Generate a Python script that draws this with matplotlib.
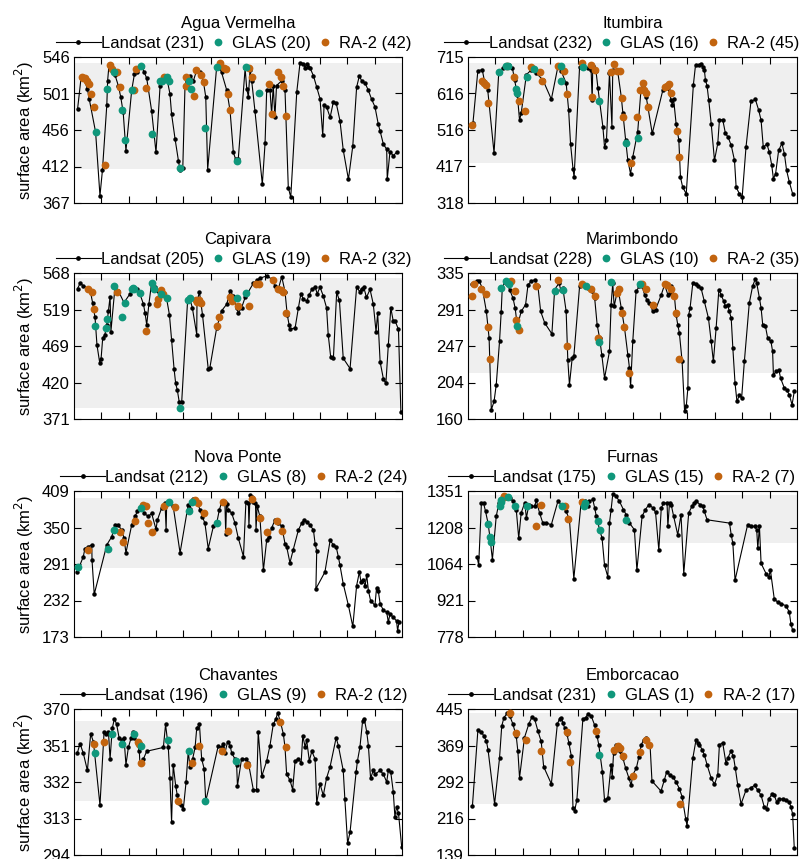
import matplotlib.pyplot as plt
import numpy as np
from matplotlib.legend_handler import HandlerLine2D
from matplotlib.lines import Line2D

plt.rcParams['font.family'] = ['Liberation Sans', 'DejaVu Sans']
plt.rcParams['font.size'] = 12

TEAL = '#10977b'
ORANGE = '#c2640f'
BAND = '#efefef'

# time axis: years since start of record (12 years shown)

# ---- Agua Vermelha ----
agua_landsat = [(0.13, 482), (0.26, 521), (0.34, 521), (0.49, 507), (0.56, 494), (0.79, 454), (0.95, 376),
                (1.04, 407), (1.20, 487), (1.23, 517), (1.28, 536), (1.38, 530), (1.50, 524), (1.62, 511),
                (1.71, 497), (1.80, 478), (1.90, 431), (2.11, 505), (2.21, 525), (2.29, 528), (2.35, 532),
                (2.48, 534), (2.56, 528), (2.66, 520), (2.84, 480), (3.00, 429), (3.15, 511), (3.23, 519),
                (3.39, 521), (3.51, 501), (3.57, 476), (3.70, 445), (3.82, 419), (3.88, 407), (3.98, 410),
                (4.06, 509), (4.12, 517), (4.24, 523), (4.37, 517), (4.49, 530), (4.61, 527), (4.73, 517),
                (4.82, 497), (4.89, 408), (5.22, 534), (5.34, 533), (5.40, 527), (5.59, 505), (5.71, 480),
                (5.83, 429), (5.91, 421), (6.01, 421), (6.26, 532), (6.32, 507), (6.38, 497), (6.44, 530),
                (6.50, 517), (6.62, 480), (6.89, 390), (6.99, 440), (7.05, 506), (7.17, 506), (7.23, 476),
                (7.29, 511), (7.35, 472), (7.41, 511), (7.60, 517), (7.72, 505), (7.84, 386), (7.93, 374),
                (8.15, 503), (8.27, 539), (8.39, 538), (8.45, 533), (8.51, 538), (8.57, 534), (8.63, 533),
                (8.76, 523), (8.88, 509), (9.00, 495), (9.10, 450), (9.15, 487), (9.24, 485), (9.37, 472),
                (9.49, 491), (9.59, 490), (9.73, 468), (9.85, 432), (10.04, 396), (10.20, 437), (10.34, 509),
                (10.44, 523), (10.52, 517), (10.65, 514), (10.77, 505), (10.89, 494), (11.01, 485),
                (11.13, 464), (11.20, 455), (11.32, 439), (11.44, 433), (11.46, 396), (11.56, 430),
                (11.68, 425), (11.80, 429)]
agua_glas = [(0.79, 454), (1.22, 507), (1.48, 528), (1.77, 481), (1.87, 444), (2.13, 506), (2.45, 535),
             (2.85, 452), (3.16, 517), (3.22, 516), (3.39, 521), (3.48, 516), (3.89, 410), (4.21, 517),
             (4.28, 507), (4.80, 459), (5.23, 534), (5.95, 419), (6.28, 534), (6.76, 502)]
agua_ra2 = [(0.30, 521), (0.34, 520), (0.41, 520), (0.49, 517), (0.55, 513), (0.62, 501), (0.72, 485),
            (1.13, 414), (1.32, 536), (1.40, 531), (1.59, 527), (1.68, 509), (2.21, 505), (2.27, 531),
            (2.62, 508), (3.30, 522), (4.09, 521), (4.10, 510), (4.40, 498), (4.45, 530), (4.65, 524),
            (4.76, 515), (5.34, 539), (5.49, 532), (5.55, 531), (5.62, 501), (5.71, 481), (6.41, 532),
            (6.50, 522), (7.12, 513), (7.23, 476), (7.48, 528), (7.57, 522), (7.66, 511), (7.74, 474)]

# ---- Itumbira ----
itum_landsat = [(0.18, 535), (0.36, 678), (0.52, 680), (0.60, 650), (0.72, 625), (0.95, 454), (1.12, 671),
                (1.28, 685), (1.49, 694), (1.62, 685), (1.70, 653), (1.80, 612), (1.88, 543), (1.94, 562),
                (2.13, 667), (2.31, 680), (2.49, 671), (2.73, 653), (3.04, 600), (3.28, 689), (3.40, 676),
                (3.58, 644), (3.67, 571), (3.74, 479), (3.83, 411), (3.87, 388), (4.07, 689), (4.19, 694),
                (4.37, 685), (4.49, 680), (4.53, 598), (4.55, 690), (4.67, 676), (4.74, 630), (4.92, 525),
                (4.98, 470), (5.05, 488), (5.16, 671), (5.25, 525), (5.28, 680), (5.46, 676), (5.59, 607),
                (5.65, 562), (5.75, 489), (5.83, 434), (5.93, 397), (6.01, 443), (6.19, 512), (6.31, 626),
                (6.38, 635), (6.50, 607), (6.72, 507), (7.11, 626), (7.29, 630), (7.41, 598), (7.45, 585),
                (7.50, 600), (7.59, 534), (7.69, 489), (7.75, 388), (7.83, 361), (7.96, 343), (8.22, 639),
                (8.30, 694), (8.44, 694), (8.50, 697), (8.56, 689), (8.62, 680), (8.66, 653), (8.72, 636),
                (8.78, 598), (8.87, 534), (8.99, 434), (9.11, 480), (9.17, 543), (9.29, 545), (9.39, 507),
                (9.48, 498), (9.60, 475), (9.72, 434), (9.78, 361), (9.90, 343), (10.00, 334), (10.14, 470),
                (10.32, 594), (10.48, 600), (10.60, 571), (10.69, 543), (10.77, 470), (10.90, 478),
                (10.99, 457), (11.08, 420), (11.14, 384), (11.22, 398), (11.33, 461), (11.45, 480),
                (11.54, 452), (11.62, 407), (11.72, 375), (11.84, 343)]
itum_glas = [(1.14, 673), (1.40, 690), (1.46, 691), (1.76, 627), (1.80, 618), (2.14, 660), (2.40, 682),
             (3.40, 651), (3.41, 690), (4.21, 688), (4.77, 596), (5.77, 480), (6.19, 496)]
itum_ra2 = [(0.16, 530), (0.52, 651), (0.60, 644), (0.64, 639), (0.72, 589), (1.43, 691), (1.69, 660),
            (1.85, 594), (2.09, 568), (2.28, 687), (2.62, 673), (2.71, 651), (3.28, 690), (3.50, 676),
            (3.61, 614), (4.15, 699), (4.47, 693), (4.52, 605), (4.64, 680), (5.20, 673), (5.31, 697),
            (5.44, 678), (5.55, 678), (5.61, 603), (5.67, 551), (5.96, 428), (6.16, 551), (6.29, 626),
            (6.38, 644), (6.41, 626), (6.50, 616), (6.56, 578), (7.17, 633), (7.26, 637), (7.32, 641),
            (7.41, 618), (7.62, 513), (7.68, 443)]

# ---- Capivara ----
capi_landsat = [(0.13, 547), (0.22, 554), (0.34, 551), (0.59, 545), (0.68, 528), (0.77, 508), (0.84, 471),
                (0.94, 447), (0.99, 452), (1.05, 480), (1.13, 485), (1.20, 498), (1.26, 517), (1.32, 536),
                (1.35, 489), (1.50, 549), (1.62, 544), (1.83, 528), (2.05, 540), (2.17, 549), (2.29, 546),
                (2.41, 540), (2.54, 526), (2.60, 514), (2.66, 498), (2.74, 526), (2.84, 555), (2.96, 549),
                (3.09, 544), (3.27, 540), (3.39, 533), (3.49, 512), (3.57, 478), (3.66, 439), (3.72, 419),
                (3.78, 410), (3.85, 394), (3.94, 394), (4.16, 533), (4.24, 533), (4.33, 521), (4.49, 485),
                (4.50, 530), (4.59, 542), (4.70, 512), (4.91, 439), (4.97, 440), (5.22, 494), (5.40, 517),
                (5.59, 526), (5.71, 544), (5.83, 537), (5.95, 521), (6.01, 514), (6.13, 521), (6.26, 535),
                (6.56, 554), (6.68, 558), (6.80, 561), (7.05, 564), (7.23, 560), (7.35, 551), (7.48, 547),
                (7.60, 563), (7.72, 543), (7.80, 512), (7.87, 498), (7.90, 492), (8.09, 494), (8.21, 521),
                (8.30, 540), (8.39, 533), (8.51, 530), (8.60, 538), (8.70, 546), (8.82, 549), (8.90, 540),
                (9.00, 549), (9.12, 537), (9.24, 521), (9.30, 485), (9.39, 455), (9.49, 453), (9.61, 542),
                (9.71, 531), (9.85, 453), (10.10, 439), (10.34, 549), (10.45, 543), (10.52, 547),
                (10.60, 549), (10.70, 535), (10.83, 546), (10.95, 526), (11.05, 489), (11.11, 514),
                (11.20, 448), (11.32, 425), (11.41, 419), (11.50, 471), (11.59, 521), (11.68, 503),
                (11.75, 503), (11.87, 492), (11.96, 380)]
capi_glas = [(0.77, 497), (1.16, 494), (1.20, 506), (1.48, 550), (1.77, 509), (1.87, 527), (2.13, 546),
             (2.21, 547), (2.43, 541), (2.85, 555), (2.93, 547), (3.18, 539), (3.41, 534), (3.89, 386),
             (4.18, 531), (4.24, 534), (5.95, 534), (6.28, 541), (2.17, 548)]
capi_ra2 = [(0.52, 546), (0.65, 543), (0.72, 520), (1.56, 542), (2.63, 490), (3.02, 526), (3.09, 533),
            (3.18, 545), (3.24, 540), (4.45, 532), (4.51, 529), (4.59, 532), (4.65, 527), (5.24, 497),
            (5.32, 508), (5.71, 535), (5.77, 530), (5.99, 524), (6.39, 524), (6.66, 553), (6.78, 553),
            (7.27, 558), (7.45, 547), (7.56, 545), (7.66, 542), (7.74, 514)]

# ---- Marimbondo ----
mari_landsat = [(0.16, 322), (0.33, 326), (0.40, 326), (0.52, 317), (0.67, 289), (0.77, 257), (0.85, 171),
                (0.95, 181), (1.03, 201), (1.15, 253), (1.21, 288), (1.25, 317), (1.34, 324), (1.42, 322),
                (1.52, 315), (1.64, 305), (1.72, 293), (1.80, 271), (1.94, 289), (2.10, 297), (2.19, 321),
                (2.31, 325), (2.43, 327), (2.55, 319), (2.65, 289), (2.80, 275), (3.06, 262), (3.16, 315),
                (3.32, 323), (3.38, 315), (3.46, 317), (3.58, 289), (3.64, 231), (3.70, 201), (3.80, 233),
                (3.86, 235), (4.07, 319), (4.19, 321), (4.37, 317), (4.53, 313), (4.62, 305), (4.71, 273),
                (4.80, 257), (4.88, 237), (4.98, 209), (5.16, 241), (5.22, 297), (5.28, 323), (5.33, 295),
                (5.47, 317), (5.59, 293), (5.71, 269), (5.83, 237), (5.89, 221), (5.93, 199), (6.01, 253),
                (6.13, 313), (6.25, 319), (6.35, 319), (6.44, 309), (6.52, 303), (6.62, 299), (6.74, 289),
                (6.84, 291), (7.05, 309), (7.17, 321), (7.29, 309), (7.35, 311), (7.41, 319), (7.53, 307),
                (7.59, 285), (7.65, 273), (7.71, 263), (7.81, 229), (7.90, 169), (7.96, 175), (8.02, 197),
                (8.05, 285), (8.10, 293), (8.20, 323), (8.30, 322), (8.38, 319), (8.50, 317), (8.62, 301),
                (8.77, 281), (8.87, 253), (8.95, 229), (9.05, 269), (9.15, 315), (9.23, 309), (9.33, 301),
                (9.39, 295), (9.47, 297), (9.53, 289), (9.60, 281), (9.66, 245), (9.74, 203), (9.81, 181),
                (9.90, 189), (9.98, 185), (10.08, 229), (10.26, 299), (10.38, 319), (10.48, 328),
                (10.53, 323), (10.63, 305), (10.69, 293), (10.75, 273), (10.85, 271), (10.93, 257),
                (11.05, 253), (11.11, 241), (11.14, 213), (11.24, 217), (11.34, 219), (11.40, 209),
                (11.54, 197), (11.62, 195), (11.72, 189), (11.82, 177), (11.90, 193)]
mari_glas = [(1.20, 317), (1.37, 326), (1.49, 322), (1.80, 272), (3.18, 313), (3.46, 315), (4.29, 320),
             (4.76, 252), (5.22, 324), (6.29, 322)]
mari_ra2 = [(0.16, 307), (0.22, 322), (0.49, 316), (0.64, 310), (0.73, 270), (0.79, 232), (1.58, 326),
            (1.70, 313), (1.76, 279), (1.85, 267), (2.47, 319), (3.30, 327), (3.61, 248), (4.15, 322),
            (4.47, 316), (4.64, 308), (4.74, 257), (5.42, 311), (5.49, 316), (5.60, 287), (5.69, 270),
            (5.89, 215), (6.35, 322), (6.50, 316), (6.74, 297), (7.17, 322), (7.25, 321), (7.41, 316),
            (7.50, 307), (7.59, 287), (7.71, 232)]

# ---- Nova Ponte ----
nova_landsat = [(0.12, 278), (0.34, 303), (0.40, 316), (0.52, 319), (0.65, 322), (0.66, 297), (0.74, 242),
                (1.20, 322), (1.38, 335), (1.50, 354), (1.62, 354), (1.74, 346), (1.83, 333), (1.90, 309),
                (2.11, 354), (2.23, 368), (2.32, 376), (2.41, 382), (2.48, 384), (2.56, 373), (2.72, 368),
                (2.84, 373), (3.00, 347), (3.05, 362), (3.21, 382), (3.33, 390), (3.37, 346), (3.39, 388),
                (3.51, 390), (3.63, 384), (3.88, 309), (4.18, 387), (4.24, 380), (4.30, 390), (4.37, 396),
                (4.49, 392), (4.61, 379), (4.70, 367), (4.79, 357), (4.91, 316), (5.10, 352), (5.22, 357),
                (5.32, 379), (5.40, 390), (5.52, 392), (5.55, 340), (5.58, 388), (5.65, 379), (5.77, 373),
                (5.89, 357), (6.01, 333), (6.20, 303), (6.29, 392), (6.38, 390), (6.40, 352), (6.44, 403),
                (6.50, 400), (6.56, 392), (6.64, 390), (6.66, 346), (6.70, 385), (6.80, 368), (6.93, 281),
                (7.05, 330), (7.13, 335), (7.23, 349), (7.35, 362), (7.48, 357), (7.60, 352), (7.72, 324),
                (7.78, 319), (7.90, 293), (8.02, 314), (8.21, 346), (8.33, 357), (8.41, 362), (8.51, 359),
                (8.63, 354), (8.76, 346), (8.82, 324), (8.88, 312), (8.85, 251), (9.18, 278), (9.37, 329),
                (9.49, 322), (9.59, 319), (9.67, 303), (9.73, 289), (9.85, 259), (10.04, 224), (10.20, 190),
                (10.34, 256), (10.44, 278), (10.50, 262), (10.56, 265), (10.65, 256), (10.71, 273),
                (10.77, 248), (10.85, 232), (11.01, 224), (11.07, 253), (11.13, 248), (11.20, 227),
                (11.32, 216), (11.44, 213), (11.50, 197), (11.56, 210), (11.68, 205), (11.80, 199),
                (11.84, 183), (11.89, 197)]
nova_glas = [(0.16, 286), (1.24, 315), (1.48, 346), (2.45, 382), (3.48, 391), (4.22, 377), (4.30, 391),
             (5.22, 358)]
nova_ra2 = [(0.52, 314), (1.68, 342), (1.78, 326), (2.23, 361), (2.54, 387), (2.63, 384), (2.72, 358),
            (2.84, 342), (3.30, 385), (3.70, 383), (4.43, 395), (4.55, 390), (4.76, 374), (5.44, 391),
            (5.62, 345), (6.50, 396), (6.82, 365), (7.07, 342), (7.41, 361), (7.62, 345)]

# ---- Furnas ----
furn_landsat = [(0.33, 1093), (0.39, 1060), (0.49, 1305), (0.57, 1302), (0.64, 1271), (0.73, 1225),
                (0.80, 1170), (0.89, 1082), (1.03, 1252), (1.13, 1305), (1.21, 1320), (1.34, 1324),
                (1.52, 1324), (1.64, 1311), (1.76, 1278), (1.85, 1166), (1.94, 1265), (2.07, 1305),
                (2.13, 1245), (2.22, 1298), (2.31, 1291), (2.43, 1291), (2.49, 1315), (2.61, 1265),
                (2.73, 1225), (2.85, 1225), (3.04, 1219), (3.28, 1311), (3.46, 1291), (3.58, 1271),
                (3.70, 1238), (3.86, 1007), (4.13, 1311), (4.25, 1311), (4.37, 1291), (4.43, 1311),
                (4.55, 1318), (4.62, 1285), (4.68, 1252), (4.80, 1199), (4.89, 1166), (4.98, 1060),
                (5.10, 1014), (5.16, 1225), (5.22, 1278), (5.28, 1338), (5.40, 1331), (5.52, 1311),
                (5.67, 1278), (5.77, 1258), (5.89, 1225), (6.07, 1199), (6.16, 1040), (6.35, 1252),
                (6.47, 1278), (6.60, 1298), (6.74, 1285), (6.84, 1268), (6.96, 1119), (7.05, 1285),
                (7.13, 1302), (7.26, 1305), (7.29, 1212), (7.35, 1305), (7.41, 1298), (7.50, 1252),
                (7.65, 1179), (7.77, 1258), (7.87, 1027), (8.05, 1265), (8.17, 1291), (8.26, 1305),
                (8.32, 1311), (8.46, 1298), (8.56, 1291), (8.62, 1271), (8.72, 1238), (9.54, 1225),
                (9.60, 1179), (9.66, 1146), (9.74, 1001), (10.20, 1219), (10.32, 1212), (10.45, 1212),
                (10.53, 1199), (10.57, 1126), (10.63, 1212), (10.69, 1067), (10.87, 1027), (10.97, 1014),
                (11.03, 1040), (11.17, 928), (11.30, 914), (11.42, 908), (11.60, 901), (11.72, 875),
                (11.78, 828), (11.84, 805)]
furn_glas = [(0.73, 1223), (0.79, 1170), (0.85, 1149), (1.15, 1291), (1.19, 1307), (1.21, 1314),
             (1.47, 1328), (1.72, 1291), (2.15, 1291), (3.44, 1294), (4.23, 1291), (4.25, 1305),
             (4.74, 1232), (4.82, 1196), (5.77, 1238)]
furn_ra2 = [(1.30, 1331), (1.33, 1328), (2.49, 1212), (2.67, 1298), (3.55, 1294), (3.64, 1242), (4.15, 1307)]

# ---- Chavantes ----
chav_landsat = [(0.12, 347), (0.22, 352), (0.34, 347), (0.49, 338), (0.61, 357), (0.71, 353), (0.95, 320),
                (1.10, 358), (1.17, 357), (1.26, 358), (1.32, 344), (1.40, 360), (1.48, 365), (1.56, 362),
                (1.65, 355), (1.74, 354), (1.83, 355), (1.90, 341), (1.99, 350), (2.09, 355), (2.15, 358),
                (2.21, 355), (2.29, 353), (2.39, 348), (2.41, 342), (2.54, 344), (2.66, 348), (3.27, 350),
                (3.35, 362), (3.45, 350), (3.51, 334), (3.57, 311), (3.63, 341), (3.72, 330), (3.78, 325),
                (3.85, 321), (3.91, 320), (4.00, 318), (4.10, 332), (4.18, 348), (4.24, 340), (4.34, 344),
                (4.43, 350), (4.49, 360), (4.59, 362), (4.67, 344), (4.76, 339), (4.82, 322), (5.28, 351),
                (5.40, 350), (5.46, 352), (5.52, 347), (5.62, 353), (5.71, 351), (5.77, 347), (5.89, 344),
                (5.95, 341), (5.98, 330), (6.13, 344), (6.29, 344), (6.38, 342), (6.56, 328), (6.68, 328),
                (6.74, 358), (6.87, 335), (7.05, 343), (7.17, 351), (7.29, 362), (7.39, 365), (7.45, 368),
                (7.54, 364), (7.66, 357), (7.72, 350), (7.78, 336), (7.90, 333), (8.00, 328), (8.09, 343),
                (8.21, 344), (8.31, 342), (8.37, 356), (8.46, 350), (8.51, 354), (8.61, 343), (8.70, 348),
                (8.82, 344), (8.88, 321), (9.00, 331), (9.12, 325), (9.24, 334), (9.37, 340), (9.59, 355),
                (9.67, 351), (9.85, 338), (9.91, 323), (10.01, 300), (10.10, 306), (10.32, 337),
                (10.37, 343), (10.46, 350), (10.56, 364), (10.62, 365), (10.71, 358), (10.77, 351),
                (10.85, 334), (10.95, 338), (11.01, 336), (11.20, 338), (11.32, 336), (11.44, 332),
                (11.50, 338), (11.59, 337), (11.68, 327), (11.74, 314), (11.80, 319), (11.87, 316),
                (11.99, 298)]
chav_glas = [(0.77, 347), (1.39, 357), (1.77, 352), (2.18, 357), (2.44, 351), (3.45, 354), (4.22, 348),
             (4.79, 322), (5.93, 343)]
chav_ra2 = [(0.72, 352), (1.11, 353), (2.33, 353), (2.45, 342), (3.80, 322), (4.33, 342), (4.57, 351),
            (5.40, 348), (6.32, 341), (7.54, 363), (7.74, 350), (2.38, 352)]

# ---- Emborcacao ----
embo_landsat = [(0.16, 241), (0.36, 400), (0.49, 397), (0.58, 388), (0.67, 378), (0.73, 360), (0.97, 246),
                (1.15, 342), (1.23, 409), (1.31, 427), (1.43, 436), (1.52, 431), (1.64, 413), (1.76, 388),
                (1.82, 356), (1.88, 301), (2.06, 385), (2.22, 414), (2.34, 429), (2.43, 424), (2.55, 399),
                (2.67, 377), (2.76, 324), (3.04, 288), (3.26, 414), (3.34, 424), (3.40, 427), (3.46, 416),
                (3.52, 406), (3.61, 392), (3.68, 374), (3.77, 346), (3.83, 237), (3.89, 232), (3.97, 254),
                (4.19, 424), (4.29, 427), (4.37, 434), (4.49, 431), (4.62, 411), (4.71, 388), (4.77, 370),
                (4.90, 314), (4.98, 254), (5.10, 259), (5.22, 328), (5.26, 303), (5.31, 353), (5.41, 369),
                (5.53, 356), (5.65, 342), (5.75, 321), (5.87, 300), (5.95, 285), (6.01, 307), (6.14, 321),
                (6.23, 344), (6.32, 370), (6.41, 381), (6.50, 385), (6.64, 370), (6.71, 294), (7.04, 273),
                (7.16, 296), (7.25, 314), (7.35, 307), (7.47, 303), (7.59, 292), (7.71, 278), (7.81, 261),
                (7.94, 215), (7.99, 200), (8.20, 342), (8.32, 381), (8.38, 374), (8.44, 370), (8.54, 360),
                (8.62, 349), (8.72, 328), (8.87, 300), (8.99, 287), (9.11, 307), (9.17, 370), (9.29, 374),
                (9.41, 331), (9.47, 342), (9.59, 356), (9.68, 346), (9.75, 321), (9.84, 285), (9.96, 246),
                (10.14, 275), (10.32, 280), (10.45, 285), (10.57, 275), (10.69, 264), (10.81, 239),
                (10.89, 236), (10.97, 257), (11.09, 266), (11.17, 264), (11.26, 250), (11.36, 257),
                (11.48, 256), (11.60, 254), (11.72, 250), (11.78, 239), (11.84, 225), (11.90, 154)]
embo_glas = [(4.76, 349)]
embo_ra2 = [(1.52, 436), (1.74, 395), (2.10, 380), (2.67, 358), (3.61, 397), (3.73, 334), (4.68, 399),
            (5.34, 360), (5.47, 367), (5.55, 363), (5.65, 347), (6.01, 305), (6.29, 355), (6.50, 381),
            (6.60, 370), (7.75, 246)]

names = ['Agua Vermelha', 'Itumbira', 'Capivara', 'Marimbondo',
         'Nova Ponte', 'Furnas', 'Chavantes', 'Emborcacao']
landsat_n = [231, 232, 205, 228, 212, 175, 196, 231]
glas_n = [20, 16, 19, 10, 8, 15, 9, 1]
ra2_n = [42, 45, 32, 35, 24, 7, 12, 17]
ylims = [(367, 546), (318, 715), (371, 568), (160, 335), (173, 409), (778, 1351), (294, 370), (139, 445)]
ytick_labels = [['367', '412', '456', '501', '546'], ['318', '417', '516', '616', '715'],
                ['371', '420', '469', '519', '568'], ['160', '204', '247', '291', '335'],
                ['173', '232', '291', '350', '409'], ['778', '921', '1064', '1208', '1351'],
                ['294', '313', '332', '351', '370'], ['139', '216', '292', '369', '445']]
bands = [(409, 539), (427, 700), (386, 561), (215, 328), (285, 397), (1148, 1334), (322, 364), (246, 436)]
landsat = [agua_landsat, itum_landsat, capi_landsat, mari_landsat, nova_landsat, furn_landsat, chav_landsat, embo_landsat]
glas = [agua_glas, itum_glas, capi_glas, mari_glas, nova_glas, furn_glas, chav_glas, embo_glas]
ra2 = [agua_ra2, itum_ra2, capi_ra2, mari_ra2, nova_ra2, furn_ra2, chav_ra2, embo_ra2]


class LandsatHandler(HandlerLine2D):
    # long line reaching back into the text pad, with a dot in the middle
    def create_artists(self, legend, orig_handle, xdescent, ydescent, width, height, fontsize, trans):
        y = height / 2 - ydescent
        x0 = -xdescent - 1.5 * fontsize
        x1 = width - xdescent + legend.handletextpad * fontsize
        line = Line2D([x0, x1], [y, y], color='black', lw=0.8)
        dot = Line2D([(x0 + x1) / 2], [y], color='black', marker='o', ms=2.4, ls='')
        line.set_transform(trans)
        dot.set_transform(trans)
        return [line, dot]


W, H = 806, 859
fig = plt.figure(figsize=(W / 100, H / 100), dpi=100)
col_left = [74, 468]
col_width = [328, 329]
legend_x = [0.525, 0.505]
row_top = [57, 273, 491, 709]
ax_h = 146

for i in range(8):
    r, c = divmod(i, 2)
    ax = fig.add_axes([col_left[c] / W, 1 - (row_top[r] + ax_h) / H, col_width[c] / W, ax_h / H])
    lo, hi = ylims[i]
    ax.axhspan(bands[i][0], bands[i][1], color=BAND, lw=0, zorder=0)

    t, a = zip(*landsat[i])
    ls_line, = ax.plot(t, a, '-', color='black', lw=0.8, marker='o', ms=2.2, zorder=2)
    t, a = zip(*ra2[i])
    ra_pts, = ax.plot(t, a, 'o', color=ORANGE, ms=5.6, mew=0, zorder=3)
    t, a = zip(*glas[i])
    gl_pts, = ax.plot(t, a, 'o', color=TEAL, ms=5.6, mew=0, zorder=4)

    ax.set_xlim(0, 12)
    ax.set_ylim(lo, hi)
    ax.set_xticks(np.arange(1, 12))
    ax.set_xticklabels([])
    ax.set_yticks(np.linspace(lo, hi, 5), ytick_labels[i])
    ax.tick_params(direction='in', top=True, right=True, length=5, width=0.8, labelsize=12, pad=3)
    for s in ax.spines.values():
        s.set_linewidth(0.8)

    ax.legend([ls_line, gl_pts, ra_pts],
              ['Landsat (%d)' % landsat_n[i], 'GLAS (%d)' % glas_n[i], 'RA-2 (%d)' % ra2_n[i]],
              handler_map={ls_line: LandsatHandler()},
              loc='lower center', bbox_to_anchor=(legend_x[c], 1.04), ncol=3, frameon=False, fontsize=12,
              handlelength=0.7, handletextpad=0.5, columnspacing=0.5, borderpad=0.0,
              borderaxespad=0.0)
    ax.set_title(names[i], fontsize=12, pad=21)
    if c == 0:
        ax.set_ylabel('surface area (km$^2$)', fontsize=12, labelpad=4)

fig.savefig('out.png', dpi=100)
